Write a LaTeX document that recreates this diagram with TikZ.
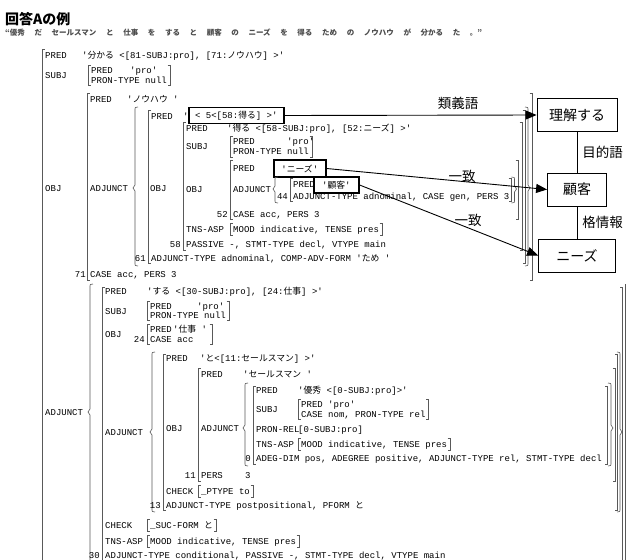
\documentclass[tikz,border=0pt]{standalone}
\usepackage{fontspec}
\setmonofont{Liberation Mono}
\newfontfamily\jp{Noto Sans CJK JP}
\usetikzlibrary{arrows.meta,calc}
\newcommand\J[1]{{\jp\fontsize{8.8}{9}\selectfont #1}}
\newcounter{tc}
\newcommand\T[3]{\stepcounter{tc}\node[fs] (t\arabic{tc}) at (#1,{#2+3}) {#3};}
\newcommand\N[3]{\stepcounter{tc}\node[fs,anchor=base east] (t\arabic{tc}) at (#1,{#2+3}) {#3};}
\newcommand\LB[3]{\draw[br] ({#1+2.5},#2) -- (#1,#2) -- (#1,#3) -- ({#1+2.5},#3);}
\newcommand\RB[3]{\draw[br] ({#1-2.5},#2) -- (#1,#2) -- (#1,#3) -- ({#1-2.5},#3);}
\newcommand\RBl[2]{\draw[br] let \p1=(t\arabic{tc}.east) in ({\x1+0.5pt},{-(#1)*1pt}) -- ({\x1+3pt},{-(#1)*1pt}) -- ({\x1+3pt},{-(#2)*1pt}) -- ({\x1+0.5pt},{-(#2)*1pt});}
\newcommand\LS[4]{\draw[br] ({#1+3},#2) .. controls (#1,#2) .. (#1,{#2+4}) -- (#1,{#4-3}) -- ({#1-2},#4) -- (#1,{#4+3}) -- (#1,{#3-4}) .. controls (#1,#3) .. ({#1+3},#3);}
\newcommand\RS[4]{\draw[br] ({#1-3},#2) .. controls (#1,#2) .. (#1,{#2+4}) -- (#1,{#4-3}) -- ({#1+2},#4) -- (#1,{#4+3}) -- (#1,{#3-4}) .. controls (#1,#3) .. ({#1-3},#3);}
\tikzset{
  fs/.style={anchor=base west, inner sep=0pt, font=\ttfamily\fontsize{9}{10}\selectfont, text=black},
  br/.style={draw=black!65, line width=0.6pt},
  kbox/.style={draw, line width=1.6pt, inner sep=1pt, anchor=west, font=\ttfamily\fontsize{9}{10}\selectfont},
  rbox/.style={draw, line width=0.8pt, minimum height=33pt, font=\jp\fontsize{14}{16}\selectfont},
  lbl/.style={font=\jp\fontsize{13.5}{15}\selectfont, inner sep=0pt},
  arr/.style={line width=0.9pt, -{Triangle[length=11pt,width=9pt]}},
  link/.style={line width=0.8pt}
}
\begin{document}
\begin{tikzpicture}[x=1pt,y=-1pt]
\fill[white] (0,0) rectangle (627,560);
\useasboundingbox (0,0) rectangle (627,560);
\clip (0,0) rectangle (627,560);
% header
\node[anchor=base west, inner sep=0pt, font=\jp\bfseries\fontsize{14}{15}\selectfont] (title) at (5,24) {回答Aの例};
\node[anchor=base west, inner sep=0pt, font=\jp\bfseries\fontsize{7.5}{8}\selectfont, text=black!70] (sent) at (5,35) {\makebox[477pt][s]{“優秀 だ セールスマン と 仕事 を する と 顧客 の ニーズ を 得る ため の ノウハウ が 分かる た 。”}};
% level 0
\LB{42}{49}{575}
\T{45}{55}{PRED}
\T{82}{55}{'\J{分かる} <[81-SUBJ:pro], [71:\J{ノウハウ}] >'}
\T{45}{75}{SUBJ}
\LB{88}{65}{85}
\T{91}{70}{PRED}
\T{130}{70}{'pro'}
\T{91}{80}{PRON-TYPE null}
\RBl{65}{85}
% OBJ (ノウハウ)
\T{45}{188}{OBJ}
\LB{87}{93}{280}
\RB{532}{93}{280}
\T{90}{99}{PRED}
\T{127}{99}{'\J{ノウハウ} '}
\T{90}{188}{ADJUNCT}
\LS{135}{107}{266}{188}
\RS{528}{107}{266}{188}
\LB{148}{110}{263}
\RB{525}{110}{263}
\T{151}{116}{PRED}
\T{183}{116}{'}
\node[kbox, minimum width=95pt, minimum height=16pt] (bx1) at (188,115.5) {< 5<[58:\J{得る}] >'};
\T{150}{188}{OBJ}
% 得る
\LB{183}{122}{250}
\RB{522}{122}{250}
\T{186}{128}{PRED}
\T{227}{128}{'\J{得る} <[58-SUBJ:pro], [52:\J{ニーズ}] >'}
\T{186}{146}{SUBJ}
\LB{230}{136}{157}
\T{233}{141}{PRED}
\T{287}{141}{'pro'}
\T{233}{151}{PRON-TYPE null}
\RBl{136}{157}
\T{186}{189}{OBJ}
% ニーズ
\LB{230}{160}{219}
\RB{518}{160}{219}
\T{233}{168}{PRED}
\node[kbox, minimum width=52pt, minimum height=17pt] (bx2) at (273,168.5) {'\J{ニーズ}'};
\T{233}{189}{ADJUNCT}
\LS{275}{177}{203}{189}
\RS{514.5}{177}{203}{189}
\LB{290}{178}{201}
\RB{511}{178}{201}
\T{293}{184}{PRED}
\node[kbox, minimum width=45pt, minimum height=16pt] (bx3) at (313,185) {'\J{顧客}'};
\N{288}{196}{44}
\T{293}{196}{ADJUNCT-TYPE adnominal, CASE gen, PERS 3}
\N{228}{214}{52}
\T{233}{214}{CASE acc, PERS 3}
\T{186}{229}{TNS-ASP}
\LB{230}{223}{235}
\T{233}{229}{MOOD indicative, TENSE pres}
\RBl{223}{235}
\N{181}{244}{58}
\T{186}{244}{PASSIVE -, STMT-TYPE decl, VTYPE main}
\N{146}{258}{61}
\T{151}{258}{ADJUNCT-TYPE adnominal, COMP-ADV-FORM '\J{ため} '}
\N{86}{274}{71}
\T{90}{274}{CASE acc, PERS 3}
% level 0 ADJUNCT
\T{45}{412}{ADJUNCT}
\LS{90}{284}{600}{412}
\draw[br] (625.5,284) -- (625.5,575);
\LB{102}{287}{575}
\RB{622.5}{287}{575}
\T{105}{291}{PRED}
\T{147}{291}{'\J{する} <[30-SUBJ:pro], [24:\J{仕事}] >'}
\T{105}{311}{SUBJ}
\LB{147}{301}{320}
\T{150}{306}{PRED}
\T{197}{306}{'pro'}
\T{150}{315}{PRON-TYPE null}
\RBl{301}{320}
\T{105}{334}{OBJ}
\N{145}{339}{24}
\LB{147}{324}{344}
\T{150}{329}{PRED}
\T{173}{329}{'\J{仕事} '}
\T{150}{339}{CASE acc}
\RB{212}{324}{344}
\T{105}{432}{ADJUNCT}
\LS{152}{352}{512}{432}
\RS{620}{352}{512}{432}
% と
\LB{163}{354}{510}
\RB{617.5}{354}{510}
\T{166}{358}{PRED}
\T{200}{358}{'\J{と}<[11:\J{セールスマン}] >'}
\T{166}{428}{OBJ}
% セールスマン
\LB{198}{368}{481}
\RB{615}{368}{481}
\T{201}{374}{PRED}
\T{243}{374}{'\J{セールスマン} '}
\T{201}{428}{ADJUNCT}
\LS{245}{383}{466}{428}
\RS{611}{383}{466}{428}
% 優秀
\LB{253}{386}{464}
\RB{607.5}{386}{464}
\T{256}{390}{PRED}
\T{298}{390}{'\J{優秀} <[0-SUBJ:pro]>'}
\T{256}{409}{SUBJ}
\LB{298}{399}{419}
\T{301}{404}{PRED 'pro'}
\T{301}{414}{CASE nom, PRON-TYPE rel}
\RBl{399}{419}
\T{256}{429}{PRON-REL}
\T{298}{429}{[0-SUBJ:pro]}
\T{256}{444}{TNS-ASP}
\LB{298}{438}{450}
\T{301}{444}{MOOD indicative, TENSE pres}
\RBl{438}{450}
\N{251}{458}{0}
\T{256}{458}{ADEG-DIM pos, ADEGREE positive, ADJUNCT-TYPE rel, STMT-TYPE decl}
\N{196}{475}{11}
\T{201}{475}{PERS}
\T{245}{475}{3}
\T{166}{491}{CHECK}
\LB{198}{485}{497}
\T{201}{491}{\_PTYPE to}
\RBl{485}{497}
\N{161}{505}{13}
\T{166}{505}{ADJUNCT-TYPE postpositional, PFORM \J{と}}
\T{105}{525}{CHECK}
\LB{147}{519}{531}
\T{150}{525}{\_SUC-FORM \J{と}}
\RBl{519}{531}
\T{105}{541}{TNS-ASP}
\LB{147}{535}{547}
\T{150}{541}{MOOD indicative, TENSE pres}
\RBl{535}{547}
\N{100}{555}{30}
\T{105}{555}{ADJUNCT-TYPE conditional, PASSIVE -, STMT-TYPE decl, VTYPE main}
% right-hand graph
\node[rbox, minimum width=80pt] (r1) at (577,115) {理解する};
\node[rbox, minimum width=59pt] (r2) at (577,189.5) {顧客};
\node[rbox, minimum width=77pt] (r3) at (577,255.5) {ニーズ};
\draw[link] (r1) -- (r2) node[lbl, midway, anchor=west, xshift=5pt] (l1) {目的語};
\draw[link] (r2) -- (r3) node[lbl, midway, anchor=west, xshift=5pt] (l2) {格情報};
\draw[arr] (bx1.east) -- (r1.west);
\draw[arr] (bx2.east) -- (r2.west);
\draw[arr] (bx3.east) -- (r3.west);
\node[lbl] (a1) at (458,103) {類義語};
\node[lbl] (a2) at (462,176) {一致};
\node[lbl] (a3) at (468,220) {一致};
\end{tikzpicture}
\end{document}
